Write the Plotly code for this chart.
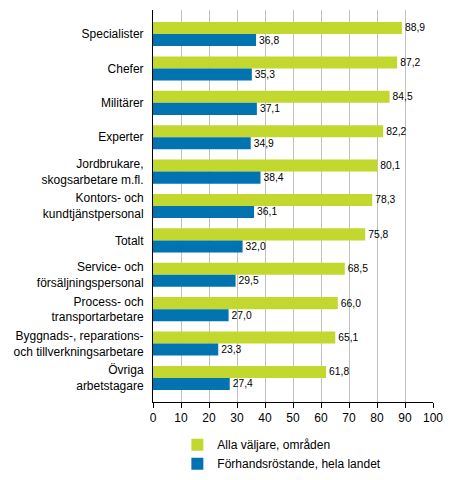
import plotly.graph_objects as go

categories = [
    "Specialister", "Chefer", "Militärer", "Experter",
    "Jordbrukare,<br>skogsarbetare m.fl.",
    "Kontors- och<br>kundtjänstpersonal",
    "Totalt",
    "Service- och<br>försäljningspersonal",
    "Process- och<br>transportarbetare",
    "Byggnads-, reparations-<br>och tillverkningsarbetare",
    "Övriga<br>arbetstagare",
]
alla_valjare = [88.9, 87.2, 84.5, 82.2, 80.1, 78.3, 75.8, 68.5, 66.0, 65.1, 61.8]
forhandsrostande = [36.8, 35.3, 37.1, 34.9, 38.4, 36.1, 32.0, 29.5, 27.0, 23.3, 27.4]
series_names = ["Alla väljare, områden", "Förhandsröstande, hela landet"]
x_ticks = [0, 10, 20, 30, 40, 50, 60, 70, 80, 90, 100]


def fmt(v):
    return f"{v:.1f}".replace(".", ",")


fig = go.Figure()
for name, vals, color in [
    (series_names[0], alla_valjare, "#c2d82f"),
    (series_names[1], forhandsrostande, "#0073b0"),
]:
    fig.add_trace(go.Bar(
        y=categories, x=vals, name=name, orientation="h",
        marker=dict(color=color, line=dict(width=0)),
        text=[fmt(v) for v in vals], textposition="outside",
        textfont=dict(color="black", size=12), cliponaxis=False,
    ))

# page body adds an 8px margin, so keep the figure inside the window
fig.update_layout(
    width=438, height=464,
    barmode="group", bargap=0.30, bargroupgap=0,
    plot_bgcolor="white", paper_bgcolor="white",
    font=dict(family="Liberation Sans, Arial", size=12, color="black"),
    margin=dict(l=145, r=13, t=2, b=70),
    # container ref so the legend doesn't push the bottom margin
    legend=dict(orientation="v", x=0.087, xanchor="left",
                y=0.09, yref="container", yanchor="top",
                font=dict(size=12), tracegroupgap=0, itemwidth=30),
)
fig.update_xaxes(
    range=[0, 100], tickvals=x_ticks, showgrid=True, gridcolor="#c0c0c0",
    gridwidth=1, showline=True, linecolor="black", ticks="outside",
    ticklen=5, tickcolor="black", zeroline=False, automargin=False,
)
fig.update_yaxes(
    range=[len(categories) - 0.3, -0.7], showline=True, linecolor="black",
    ticks="", showgrid=False, ticklabelstandoff=6, automargin=False,
)

fig.write_html("out.html")
